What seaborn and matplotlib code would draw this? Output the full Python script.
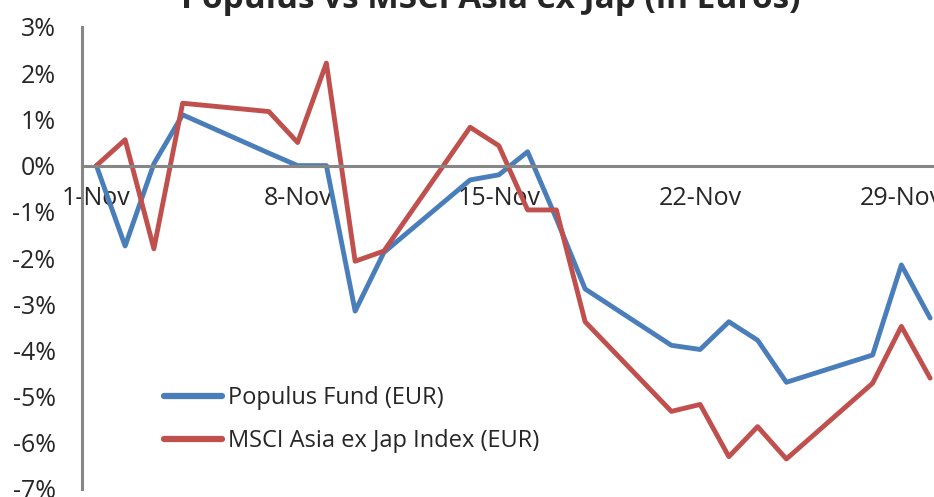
import pandas as pd
import matplotlib
matplotlib.use("Agg")
import matplotlib.pyplot as plt
from matplotlib.ticker import FuncFormatter, MultipleLocator
import seaborn as sns

# Business days of Nov 2010 (daily return vs start, in %)
days = [1, 2, 3, 4, 7, 8, 9, 10, 11, 14, 15, 16, 17, 18, 21, 22, 23, 24, 25, 28, 29, 30]
populus = [0.0, -1.74, 0.04, 1.10, 0.27, 0.0, 0.0, -3.15, -1.88, -0.31, -0.20, 0.30,
           -1.15, -2.67, -3.89, -3.98, -3.38, -3.78, -4.69, -4.10, -2.15, -3.30]
msci = [0.0, 0.56, -1.80, 1.35, 1.17, 0.50, 2.22, -2.07, -1.85, 0.83, 0.43, -0.96,
        -0.96, -3.38, -5.32, -5.17, -6.30, -5.65, -6.35, -4.71, -3.48, -4.60]
series_names = ["Populus Fund (EUR)", "MSCI Asia ex Jap Index (EUR)"]
colors = ["#4A7EBB", "#C0504D"]
title = "Populus vs MSCI Asia ex Jap (in Euros)"

dates = pd.to_datetime([f"2010-11-{d:02d}" for d in days])
df = pd.concat([
    pd.DataFrame({"date": dates, "value": populus, "series": series_names[0]}),
    pd.DataFrame({"date": dates, "value": msci, "series": series_names[1]}),
])
# Excel date axis puts each point in the middle of its day
df["date"] = df["date"] + pd.Timedelta(hours=12)

sns.set_style("white")
plt.rcParams["font.family"] = ["Open Sans", "DejaVu Sans"]

W, H = 934, 497
fig = plt.figure(figsize=(W / 100, H / 100), dpi=100)
ax = fig.add_axes([82 / W, 8 / H, 1 - 82 / W, (489 - 27) / H])

sns.lineplot(data=df, x="date", y="value", hue="series", palette=colors,
             linewidth=3.5, ax=ax, legend=True)

start = pd.Timestamp("2010-11-01")
ax.set_xlim(start, start + pd.Timedelta(days=(W - 82) / 28.75))
ax.set_ylim(-7, 3)
ax.yaxis.set_major_locator(MultipleLocator(1))
ax.yaxis.set_major_formatter(FuncFormatter(lambda v, p: f"{v:.0f}%"))

grey = "#868686"
for s in ["top", "right"]:
    ax.spines[s].set_visible(False)
ax.spines["bottom"].set_position(("data", 0))
for s in ["left", "bottom"]:
    ax.spines[s].set_color(grey)
    ax.spines[s].set_linewidth(2.2)

week_ticks = pd.date_range("2010-11-01", periods=5, freq="7D")
ax.set_xticks(week_ticks)
ax.set_xticklabels([])
ax.set_xticks(week_ticks + pd.Timedelta(hours=12), minor=True)
ax.set_xticklabels([d.strftime("%-d-%b") for d in week_ticks], minor=True)
ax.tick_params(axis="x", which="major", length=6, width=2, color=grey, direction="out")
ax.tick_params(axis="x", which="minor", length=0, pad=15, labelsize=18)
ax.tick_params(axis="y", length=6, width=2, color=grey, labelsize=18, pad=13)
ax.set_xlabel("")
ax.set_ylabel("")

leg = ax.legend(frameon=False, fontsize=17, loc="upper left",
                bbox_to_anchor=(164 / W, 1 - 386 / H), bbox_transform=fig.transFigure,
                borderaxespad=0, borderpad=0, handlelength=2.45, handletextpad=0.25,
                labelspacing=0.8)
for line in leg.get_lines():
    line.set_linewidth(4.5)
    line.set_solid_capstyle("round")

fig.text(0.525, 1 - 8 / H, title, ha="center", va="baseline",
         fontsize=24, fontweight="bold")

fig.savefig("out.png", dpi=100)
